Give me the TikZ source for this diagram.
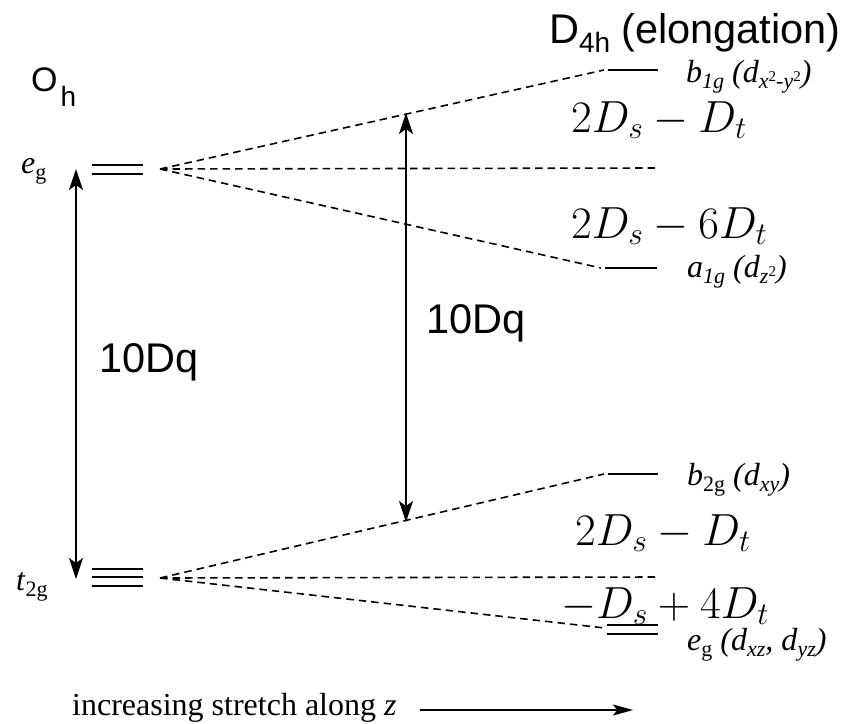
\RequirePackage{fix-cm}
\documentclass[tikz,border=0pt]{standalone}
\usepackage[no-math]{fontspec}
\newfontfamily\arialf{Liberation Sans}
\newfontfamily\timesf{Liberation Serif}
\usetikzlibrary{arrows.meta}
\newcommand{\sbx}[1]{\raisebox{-6.5pt}{\fontsize{22}{24}\selectfont #1}}
\newcommand{\spx}[1]{\raisebox{7pt}{\fontsize{15}{17}\selectfont #1}}
\tikzset{
  lvl/.style={line width=2.4pt},
  conn/.style={dash pattern=on 7.5pt off 5pt, line width=1.6pt},
  gaparrow/.style={line width=1.6pt, {Stealth[length=21pt,width=14pt,inset=5pt]}-{Stealth[length=21pt,width=14pt,inset=5pt]}},
  dirarrow/.style={line width=1.6pt, -{Stealth[length=20pt,width=11pt,inset=4pt]}},
  lbl/.style={anchor=base west, inner sep=0pt},
  sans/.style={lbl, font=\arialf\fontsize{41.5}{46}\selectfont},
  orb/.style={lbl, font=\timesf\fontsize{32}{36}\selectfont},
  mth/.style={lbl, font=\fontsize{45}{52}\selectfont},
}
\begin{document}
\begin{tikzpicture}[x=1pt,y=-1pt]
\useasboundingbox (0,0) rectangle (845,723);

% titles
\node[lbl, font=\arialf\fontsize{41.5}{50}\selectfont] (title) at (549,43) {D\raisebox{-9pt}{\fontsize{28}{32}\selectfont 4h}\hspace{11pt}(elongation)};
\node[lbl, font=\arialf\fontsize{34}{38}\selectfont] (oh) at (31,91) {O\hspace{3pt}\raisebox{-15pt}{\fontsize{28}{30}\selectfont h}};

% left levels
\coordinate (egA1) at (92,165); \coordinate (egB1) at (143,165);
\coordinate (egA2) at (92,174); \coordinate (egB2) at (143,174);
\coordinate (tA1) at (92,569); \coordinate (tB1) at (143,569);
\coordinate (tA2) at (92,577); \coordinate (tB2) at (143,577);
\coordinate (tA3) at (92,586); \coordinate (tB3) at (143,586);
\draw[lvl] (egA1) -- (egB1) (egA2) -- (egB2);
\draw[lvl] (tA1) -- (tB1) (tA2) -- (tB2) (tA3) -- (tB3);

\node[orb] (eglbl) at (21,173) {\textit{e}\sbx{g}};
\node[orb] (t2glbl) at (16,590) {\textit{t}\sbx{2g}};

% right levels
\coordinate (b1A) at (608,70); \coordinate (b1B) at (658,70);
\coordinate (a1A) at (605,268); \coordinate (a1B) at (657,268);
\coordinate (b2A) at (608,474); \coordinate (b2B) at (658,474);
\coordinate (eA1) at (607,625); \coordinate (eB1) at (658,625);
\coordinate (eA2) at (607,634); \coordinate (eB2) at (658,634);
\draw[lvl] (b1A) -- (b1B) (a1A) -- (a1B) (b2A) -- (b2B) (eA1) -- (eB1) (eA2) -- (eB2);

% dashed correlation lines
\coordinate (egS) at (160,169);
\coordinate (t2S) at (160,578);
\coordinate (b1E) at (604,70);
\coordinate (egH) at (658,168);
\coordinate (a1E) at (601,268);
\coordinate (b2E) at (604,474);
\coordinate (t2H) at (658,577);
\coordinate (eE) at (605,628);
\draw[conn] (egS) -- (b1E);
\draw[conn] (egS) -- (egH);
\draw[conn] (egS) -- (a1E);
\draw[conn] (t2S) -- (b2E);
\draw[conn] (t2S) -- (t2H);
\draw[conn] (t2S) -- (eE);

% 10Dq arrows
\coordinate (gLt) at (76,169);
\coordinate (gLb) at (76,579);
\coordinate (gRt) at (406,113);
\coordinate (gRb) at (406,522);
\draw[gaparrow] (gLt) -- (gLb);
\draw[gaparrow] (gRt) -- (gRb);
\node[sans] (dqL) at (99,372) {10Dq};
\node[sans] (dqR) at (426,333) {10Dq};

% orbital labels on the right
\node[orb] (b1lbl) at (686,82) {\textit{b}\sbx{\textit{1g}} \textit{(d}\sbx{\textit{x}\spx{2}\textit{-y}\spx{2}}\textit{)}};
\node[orb] (a1lbl) at (687,277) {\textit{a}\sbx{\textit{1g}} \textit{(d}\sbx{\textit{z}\spx{2}}\textit{)}};
\node[orb] (b2lbl) at (687,485) {\textit{b}\sbx{2g} \textit{(d}\sbx{\textit{xy}}\textit{)}};
\node[orb] (e2lbl) at (687,650) {\textit{e}\sbx{g} \textit{(d}\sbx{\textit{xz}}\textit{, d}\sbx{\textit{yz}}\textit{)}};

% energy expressions
\node[mth] (m1) at (571,132) {$2D_s-D_t$};
\node[mth] (m2) at (571,238) {$2D_s-6D_t$};
\node[mth] (m3) at (575,545) {$2D_s-D_t$};
\node[mth] (m4) at (561,618) {$-D_s+4D_t$};

% bottom caption
\node[lbl, font=\timesf\fontsize{32}{36}\selectfont] (cap) at (72,715) {increasing stretch along \textit{z}};
\coordinate (sA) at (420,710);
\coordinate (sB) at (633,710);
\draw[dirarrow] (sA) -- (sB);
\end{tikzpicture}
\end{document}
